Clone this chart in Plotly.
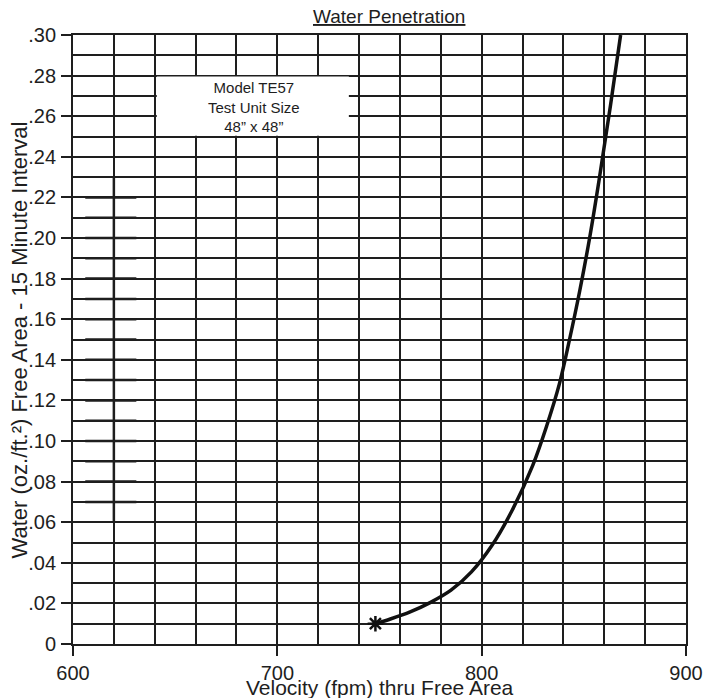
import plotly.graph_objects as go

# Curve data
velocity = [748, 755, 765, 775, 785, 795, 805, 815, 825, 832, 838, 843, 848, 853, 858, 863, 868]
water = [0.010, 0.0122, 0.0158, 0.0205, 0.0265, 0.0355, 0.0485, 0.066, 0.088, 0.108,
         0.128, 0.150, 0.174, 0.201, 0.232, 0.265, 0.300]

start_velocity = [748]
start_water = [0.010]

# Axis ticks
x_tickvals = [600, 700, 800, 900]
x_ticktext = ["600", "700", "800", "900"]
y_tickvals = [0, 0.02, 0.04, 0.06, 0.08, 0.10, 0.12, 0.14, 0.16, 0.18, 0.20, 0.22, 0.24, 0.26, 0.28, 0.30]
y_ticktext = ["0", ".02", ".04", ".06", ".08", ".10", ".12", ".14", ".16", ".18", ".20",
              ".22", ".24", ".26", ".28", ".30"]

# Left-side scale marks (stray scale in the reference)
scale_x = 620
scale_y_range = [0.06, 0.23]
scale_marks = [0.07, 0.08, 0.09, 0.10, 0.11, 0.12, 0.13, 0.14, 0.15, 0.16, 0.17, 0.18, 0.19, 0.20, 0.21, 0.22]
scale_span = [606, 631]

title_text = "Water Penetration"
x_title = "Velocity (fpm) thru Free Area"
y_title = "Water (oz./ft.²) Free Area - 15 Minute Interval"
box_text = ["Model TE57", "Test Unit Size", "48” x 48”"]

FONT = "Liberation Sans, Arial, sans-serif"
INK = "#1e1e1e"
PLOT_W, PLOT_H = 624, 609

fig = go.Figure()

# stray scale
sx, sy = [scale_x, scale_x], [scale_y_range[0], scale_y_range[1]]
sx.append(None); sy.append(None)
for m in scale_marks:
    sx += [scale_span[0], scale_span[1], None]
    sy += [m, m, None]
fig.add_trace(go.Scatter(x=sx, y=sy, mode="lines", line=dict(color=INK, width=2.5),
                         hoverinfo="skip", showlegend=False))

fig.add_trace(go.Scatter(x=velocity, y=water, mode="lines",
                         line=dict(color="#111", width=3.5, shape="spline", smoothing=1.0),
                         showlegend=False))
fig.add_trace(go.Scatter(x=start_velocity, y=start_water, mode="markers",
                         marker=dict(symbol="asterisk-open", size=13, color="#111",
                                     line=dict(color="#111", width=2.5)),
                         showlegend=False))

# white label box
fig.add_shape(type="rect", xref="x", yref="y", x0=641, x1=735, y0=0.2504, y1=0.2796,
              fillcolor="white", line=dict(width=0), layer="between")
fig.add_annotation(x=688.5, y=0.2645, xref="x", yref="y", text="<br>".join(box_text),
                   showarrow=False, font=dict(family=FONT, size=15, color=INK), align="center")

fig.add_annotation(x=793, y=1, xref="x", yref="paper", xanchor="right", yanchor="bottom",
                   yshift=6, text="<u>" + title_text + "</u>", showarrow=False,
                   font=dict(family=FONT, size=19, color=INK))
fig.add_annotation(x=-54 / PLOT_W, y=0.5, xref="paper", yref="paper", text=y_title,
                   textangle=-90, showarrow=False, xanchor="center", yanchor="middle",
                   font=dict(family=FONT, size=22, color=INK))
fig.add_annotation(x=0.5, y=-43 / PLOT_H, xref="paper", yref="paper", text=x_title,
                   showarrow=False, xanchor="center", yanchor="middle",
                   font=dict(family=FONT, size=21, color=INK))

fig.update_xaxes(range=[600, 900], tickvals=x_tickvals, ticktext=x_ticktext,
                 ticks="outside", ticklen=10, tickwidth=1.8, tickcolor=INK,
                 showgrid=False, showline=True, linecolor=INK, linewidth=1.8, mirror=True,
                 minor=dict(dtick=20, tick0=600, showgrid=True, gridcolor=INK, gridwidth=1.6),
                 zeroline=False, ticklabelstandoff=0,
                 tickfont=dict(family=FONT, size=20, color=INK))
fig.update_yaxes(range=[0, 0.30], tickvals=y_tickvals, ticktext=y_ticktext,
                 ticks="outside", ticklen=10, tickwidth=1.8, tickcolor=INK,
                 showgrid=True, gridcolor=INK, gridwidth=1.6,
                 showline=True, linecolor=INK, linewidth=1.8, mirror=True,
                 minor=dict(dtick=0.01, tick0=0, showgrid=True, gridcolor=INK, gridwidth=1.6),
                 zeroline=False, ticklabelstandoff=1,
                 tickfont=dict(family=FONT, size=20, color=INK))

# page body has an 8px margin, so the figure is offset by 8px
fig.update_layout(width=707, height=690, margin=dict(l=65, r=18, t=27, b=54),
                  plot_bgcolor="white", paper_bgcolor="white", showlegend=False)

fig.write_html("out.html")
